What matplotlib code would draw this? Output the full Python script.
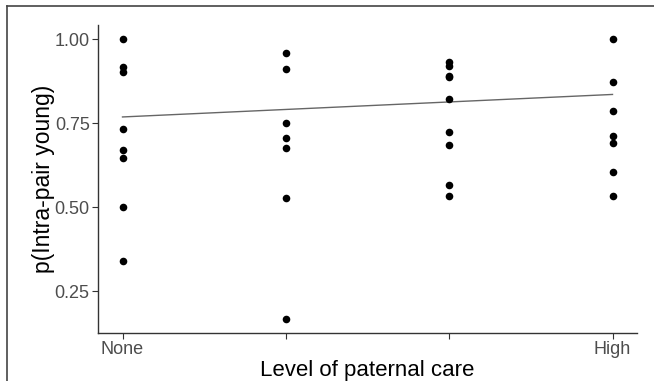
import matplotlib
matplotlib.use("Agg")
import matplotlib.pyplot as plt
from matplotlib.lines import Line2D

plt.rcParams['font.family'] = ['Liberation Sans', 'DejaVu Sans']

# Data
care_levels = [0, 1, 2, 3]
tick_labels = ["None", "", "", "High"]
p_none = [1.00, 0.916, 0.901, 0.732, 0.669, 0.645, 0.500, 0.340]
p_low = [0.958, 0.912, 0.749, 0.706, 0.676, 0.526, 0.167]
p_mid = [0.931, 0.919, 0.891, 0.886, 0.821, 0.722, 0.686, 0.565, 0.532]
p_high = [1.00, 0.872, 0.787, 0.712, 0.690, 0.604, 0.532]
fit_x = [0, 3]
fit_y = [0.768, 0.835]

groups = [p_none, p_low, p_mid, p_high]

fig = plt.figure(figsize=(6.54, 3.81), dpi=100)
ax = fig.add_axes([98/654, 1-333/381, (637-98)/654, (333-25)/381])

for xv, vals in zip(care_levels, groups):
    ax.scatter([xv]*len(vals), vals, s=30, color='black', zorder=3, linewidths=0)

ax.plot(fit_x, fit_y, color='#666666', lw=1.0, zorder=2)

ax.set_xlim(-0.15, 3.15)
ax.set_ylim(0.125, 1.0417)
ax.set_xticks(care_levels)
ax.set_xticklabels(tick_labels)
ax.set_yticks([0.25, 0.5, 0.75, 1.0])
ax.set_yticklabels(["0.25", "0.50", "0.75", "1.00"])

for s in ['top', 'right']:
    ax.spines[s].set_visible(False)
for s in ['left', 'bottom']:
    ax.spines[s].set_color('#333333')
    ax.spines[s].set_linewidth(1.0)

ax.tick_params(axis='both', colors='#333333', length=4, width=0.8,
               labelsize=13, labelcolor='#4D4D4D', pad=2)

ax.set_xlabel("Level of paternal care", fontsize=16, color='black', labelpad=1)
ax.set_ylabel("p(Intra-pair young)", fontsize=16.5, color='black', labelpad=0)

# screenshot frame lines
fig.add_artist(Line2D([7/654, 7/654], [0, 1-6/381], transform=fig.transFigure,
                      color='#444444', lw=1.2))
fig.add_artist(Line2D([7/654, 1], [1-6/381, 1-6/381], transform=fig.transFigure,
                      color='#444444', lw=1.2))

fig.savefig("out.png", dpi=100)
